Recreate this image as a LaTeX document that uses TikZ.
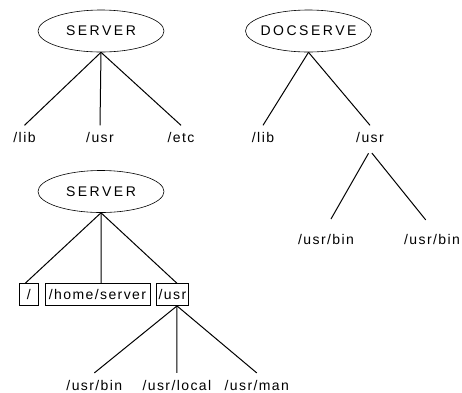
\documentclass[tikz,border=0pt]{standalone}
\usepackage{fontspec}
\setmainfont{Liberation Sans}
\newfontfamily\dirfont[LetterSpace=10]{Liberation Sans}
\newfontfamily\hostfont[LetterSpace=18]{Liberation Sans}
\usetikzlibrary{positioning,shapes.geometric}

\begin{document}
\begin{tikzpicture}[x=1pt, y=-1pt,
	host/.style={ellipse, draw, line width=0.6pt, minimum width=126pt, minimum height=42pt, inner xsep=-20pt, inner ysep=0pt, font=\hostfont\fontsize{14}{16}\selectfont},
	dir/.style={text height=10pt, text depth=1pt, inner xsep=1pt, inner ysep=7pt, font=\dirfont\fontsize{14}{16}\selectfont},
	dirbox/.style={dir, draw, line width=0.6pt, inner ysep=5.5pt},
	link/.style={line width=1pt}]
		\useasboundingbox (0,0) rectangle (462,392);
		
		\node (S1) [host] at (101,31) {SERVER};
		\node (lib1) [dir, below=73pt of S1, xshift=-76.5pt] {/lib};
		\node (usr1) [dir, below=73pt of S1, xshift=-1pt] {/usr};
		\node (etc1) [dir, below=73pt of S1, xshift=80pt] {/etc};
		
		\node (D) [host] at (308.5,31) {DOCSERVE};
		\node (lib2) [dir, below=73pt of D, xshift=-45.5pt] {/lib};
		\node (usr2) [dir, below=73pt of D, xshift=61.5pt] {/usr};
		\node (bin2a) [dir, below=77pt of usr2, xshift=-44pt] {/usr/bin};
		\node (bin2b) [dir, below=77pt of usr2, xshift=62pt] {/usr/bin};
		
		\node (S2) [host] at (101,191.5) {SERVER};
		\node (home) [dirbox, below=70.5pt of S2, xshift=-3.5pt, inner xsep=4pt] {/home/server};
		\node (root) [dirbox, left=6pt of home, minimum width=19pt] {/};
		\node (usr3) [dirbox, right=6pt of home, inner xsep=2pt] {/usr};
		\node (loc3) [dir, below=67pt of usr3, xshift=4.5pt] {/usr/local};
		\node (bin3) [dir, left=18pt of loc3] {/usr/bin};
		\node (man3) [dir, right=11pt of loc3] {/usr/man};
		
		\draw [link] (S1.south) -- (lib1.north);
		\draw [link] (S1.south) -- (usr1.north);
		\draw [link] (S1.south) -- (etc1.north);
		
		\draw [link] (D.south) -- (lib2.north);
		\draw [link] (D.south) -- (usr2.north);
		\draw [link, shorten <=3pt, shorten >=10pt] (usr2.south) -- (bin2a.north);
		\draw [link, shorten <=3pt, shorten >=10pt] (usr2.south) -- (bin2b.north);
		
		\draw [link] (S2.south) -- (root.108);
		\draw [link] (S2.south) -- (home.72);
		\draw [link] (S2.south) -- (usr3.68);
		\draw [link] (usr3.-68) -- (bin3.north);
		\draw [link] (usr3.-68) -- (loc3.north);
		\draw [link] (usr3.-68) -- (man3.north);
		
\end{tikzpicture}
\end{document}
